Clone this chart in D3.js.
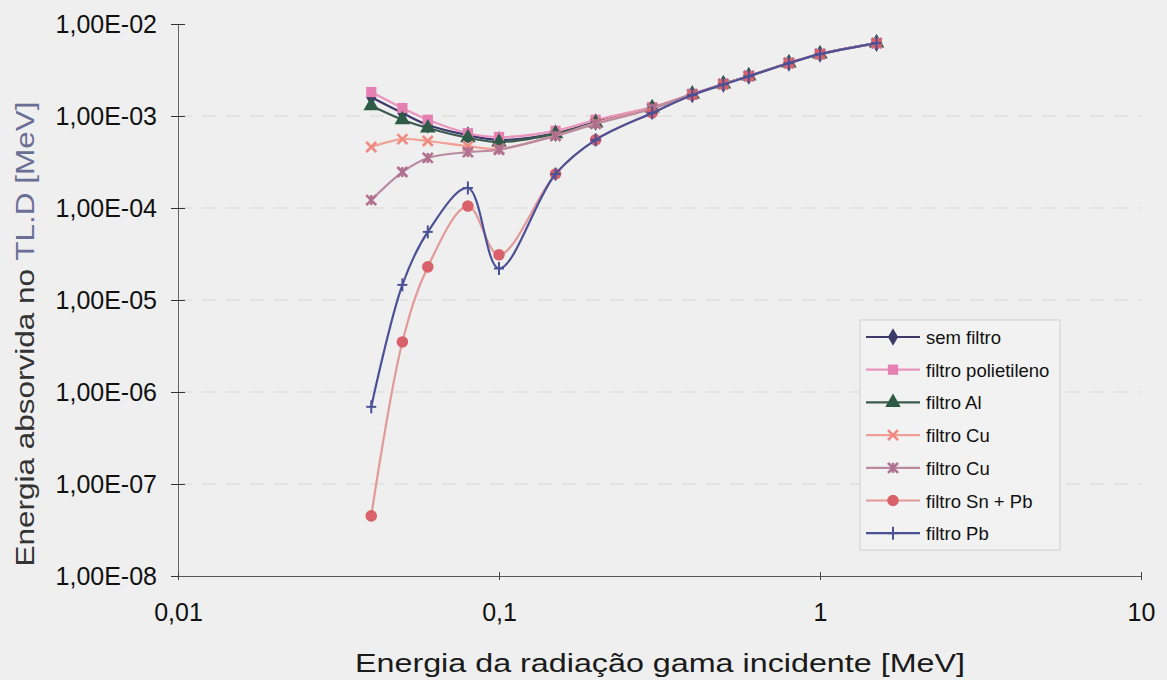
<!DOCTYPE html>
<html>
<head>
<meta charset="utf-8">
<script src="https://cdn.jsdelivr.net/npm/d3@7"></script>
<style>
  body { margin: 0; background: #efefef; }
  text { font-family: "Liberation Sans", Arial, sans-serif; }
</style>
</head>
<body>
<div class="vis"></div>
<script>
// energias (MeV)
const energies = [0.04, 0.05, 0.06, 0.08, 0.1, 0.15, 0.2, 0.3, 0.4, 0.5, 0.6, 0.8, 1, 1.5];

const semFiltro   = [1.6e-3, 1.08e-3, 8.0e-4, 6.2e-4, 5.5e-4, 6.5e-4, 8.6e-4, 1.22e-3, 1.72e-3, 2.23e-3, 2.72e-3, 3.77e-3, 4.72e-3, 6.2e-3];
const polietileno = [1.82e-3, 1.22e-3, 9.1e-4, 6.5e-4, 5.9e-4, 6.9e-4, 9.1e-4, 1.25e-3, 1.74e-3, 2.23e-3, 2.72e-3, 3.77e-3, 4.72e-3, 6.2e-3];
const filtroAl    = [1.29e-3, 9.1e-4, 7.4e-4, 5.8e-4, 5.2e-4, 6.4e-4, 8.4e-4, 1.22e-3, 1.72e-3, 2.23e-3, 2.72e-3, 3.77e-3, 4.72e-3, 6.2e-3];
const filtroCu    = [4.6e-4, 5.6e-4, 5.35e-4, 4.7e-4, 4.4e-4, 6.1e-4, 8.4e-4, 1.22e-3, 1.72e-3, 2.23e-3, 2.72e-3, 3.77e-3, 4.72e-3, 6.2e-3];
const filtroCu2   = [1.22e-4, 2.46e-4, 3.5e-4, 4.05e-4, 4.3e-4, 6.1e-4, 8.2e-4, 1.2e-3, 1.72e-3, 2.23e-3, 2.72e-3, 3.77e-3, 4.72e-3, 6.2e-3];
const filtroSnPb  = [4.5e-8, 3.5e-6, 2.29e-5, 1.05e-4, 3.1e-5, 2.34e-4, 5.5e-4, 1.08e-3, 1.69e-3, 2.2e-3, 2.7e-3, 3.75e-3, 4.7e-3, 6.2e-3];
const filtroPb    = [6.9e-7, 1.46e-5, 5.5e-5, 1.65e-4, 2.2e-5, 2.34e-4, 5.5e-4, 1.08e-3, 1.69e-3, 2.2e-3, 2.7e-3, 3.75e-3, 4.7e-3, 6.2e-3];

const seriesNames = ["sem filtro", "filtro polietileno", "filtro Al", "filtro Cu", "filtro Cu", "filtro Sn + Pb", "filtro Pb"];
const seriesValues = [semFiltro, polietileno, filtroAl, filtroCu, filtroCu2, filtroSnPb, filtroPb];

const xTicks = [0.01, 0.1, 1, 10];
const xTickLabels = ["0,01", "0,1", "1", "10"];
const yTicks = [1e-8, 1e-7, 1e-6, 1e-5, 1e-4, 1e-3, 1e-2];
const yTickLabels = ["1,00E-08", "1,00E-07", "1,00E-06", "1,00E-05", "1,00E-04", "1,00E-03", "1,00E-02"];

// estilo de cada serie
const styles = [
  {line: "#3b3a6b", fill: "#3b3a6b", shape: "diamond"},
  {line: "#ea94bf", fill: "#e67fb2", shape: "square"},
  {line: "#3c5a4e", fill: "#2e5a46", shape: "triangle"},
  {line: "#f2a097", fill: "#f08a80", shape: "x"},
  {line: "#b98aa0", fill: "#b0708f", shape: "star"},
  {line: "#e39a97", fill: "#d8616a", shape: "circle"},
  {line: "#4b5196", fill: "#4b5196", shape: "plus"}
];

const width = 1167, height = 680;
const margin = {top: 24, right: 26, bottom: 104, left: 178};

const svg = d3.select(".vis").append("svg")
  .attr("width", width)
  .attr("height", height);

svg.append("rect").attr("width", width).attr("height", height).attr("fill", "#efefef");

const x = d3.scaleLog().domain([0.01, 10]).range([margin.left, width - margin.right]);
const y = d3.scaleLog().domain([1e-8, 1e-2]).range([height - margin.bottom, margin.top]);

// grelha horizontal
svg.append("g")
  .selectAll("line")
  .data(yTicks.slice(1, -1))
  .enter().append("line")
  .attr("x1", x(0.01)).attr("x2", x(10))
  .attr("y1", d => y(d)).attr("y2", d => y(d))
  .attr("stroke", "#d6d6d6")
  .attr("stroke-dasharray", "14,10");

// eixo Y
const yAxis = svg.append("g")
  .attr("transform", "translate(" + x(0.01) + ",0)")
  .call(d3.axisLeft(y).tickValues(yTicks).tickFormat((d, i) => yTickLabels[i]).tickSize(0).tickPadding(21));
yAxis.select(".domain").attr("stroke", "#666");
yAxis.selectAll("text").attr("font-size", 25).attr("fill", "#111");
yAxis.selectAll(".tick").append("line")
  .attr("x1", -7).attr("x2", 7).attr("stroke", "#333");

// eixo X
const xAxis = svg.append("g")
  .attr("transform", "translate(0," + y(1e-8) + ")")
  .call(d3.axisBottom(x).tickValues(xTicks).tickFormat((d, i) => xTickLabels[i]).tickSize(0).tickPadding(27));
xAxis.select(".domain").attr("stroke", "#555");
xAxis.selectAll("text").attr("font-size", 25).attr("fill", "#111");
xAxis.selectAll(".tick").append("line")
  .attr("y1", -4).attr("y2", 4).attr("stroke", "#444");

// titulos dos eixos
svg.append("text")
  .attr("x", 660).attr("y", 672)
  .attr("text-anchor", "middle")
  .attr("font-size", 26).attr("fill", "#1a1a1a")
  .attr("textLength", 610).attr("lengthAdjust", "spacingAndGlyphs")
  .text("Energia da radiação gama incidente [MeV]");

const yTitle = svg.append("text")
  .attr("transform", "translate(34,334) rotate(-90)")
  .attr("text-anchor", "middle")
  .attr("font-size", 26)
  .attr("textLength", 465).attr("lengthAdjust", "spacingAndGlyphs");
yTitle.append("tspan").attr("fill", "#333").text("Energia absorvida no ");
yTitle.append("tspan").attr("fill", "#6a6f96").text("TL.D [MeV]");

// marcadores
function marker(g, shape, fill, s) {
  if (shape === "x" || shape === "star" || shape === "plus") {
    const segs = [];
    if (shape !== "plus") segs.push([-s, -s, s, s], [-s, s, s, -s]);
    if (shape === "star") segs.push([0, -s, 0, s]);
    if (shape === "plus") segs.push([-s, 0, s, 0], [0, -s * 1.3, 0, s * 1.3]);
    segs.forEach(p => g.append("line")
      .attr("x1", p[0]).attr("y1", p[1]).attr("x2", p[2]).attr("y2", p[3])
      .attr("stroke", fill).attr("stroke-width", shape === "plus" ? 2 : 2.6));
    return;
  }
  const types = {diamond: d3.symbolDiamond, square: d3.symbolSquare, triangle: d3.symbolTriangle, circle: d3.symbolCircle};
  g.append("path")
    .attr("d", d3.symbol().type(types[shape]).size(shape === "diamond" ? 90 : 105)())
    .attr("fill", fill);
}

const line = d3.line()
  .x(d => x(d[0]))
  .y(d => y(d[1]))
  .curve(d3.curveCatmullRom.alpha(0.5));

seriesValues.forEach((vals, i) => {
  const pts = energies.map((e, j) => [e, vals[j]]);
  const g = svg.append("g");
  g.append("path")
    .attr("d", line(pts))
    .attr("fill", "none")
    .attr("stroke", styles[i].line)
    .attr("stroke-width", 2.2);
  g.selectAll("g.pt")
    .data(pts)
    .enter().append("g")
    .attr("class", "pt")
    .attr("transform", d => "translate(" + x(d[0]) + "," + y(d[1]) + ")")
    .each(function() { marker(d3.select(this), styles[i].shape, styles[i].fill, 5); });
});

// legenda
const legend = svg.append("g");
legend.append("rect")
  .attr("x", 860).attr("y", 320).attr("width", 200).attr("height", 230)
  .attr("fill", "#f2f2f2").attr("stroke", "#cfcfcf");
seriesNames.forEach((name, i) => {
  const ly = 337 + i * 32.7;
  const lg = legend.append("g");
  lg.append("line")
    .attr("x1", 866).attr("x2", 920).attr("y1", ly).attr("y2", ly)
    .attr("stroke", styles[i].line).attr("stroke-width", 2.2);
  const m = lg.append("g").attr("transform", "translate(893," + ly + ")");
  marker(m, styles[i].shape, styles[i].fill, 5);
  lg.append("text")
    .attr("x", 926).attr("y", ly + 7)
    .attr("font-size", 18.5).attr("fill", "#111")
    .text(name);
});
</script>
</body>
</html>
